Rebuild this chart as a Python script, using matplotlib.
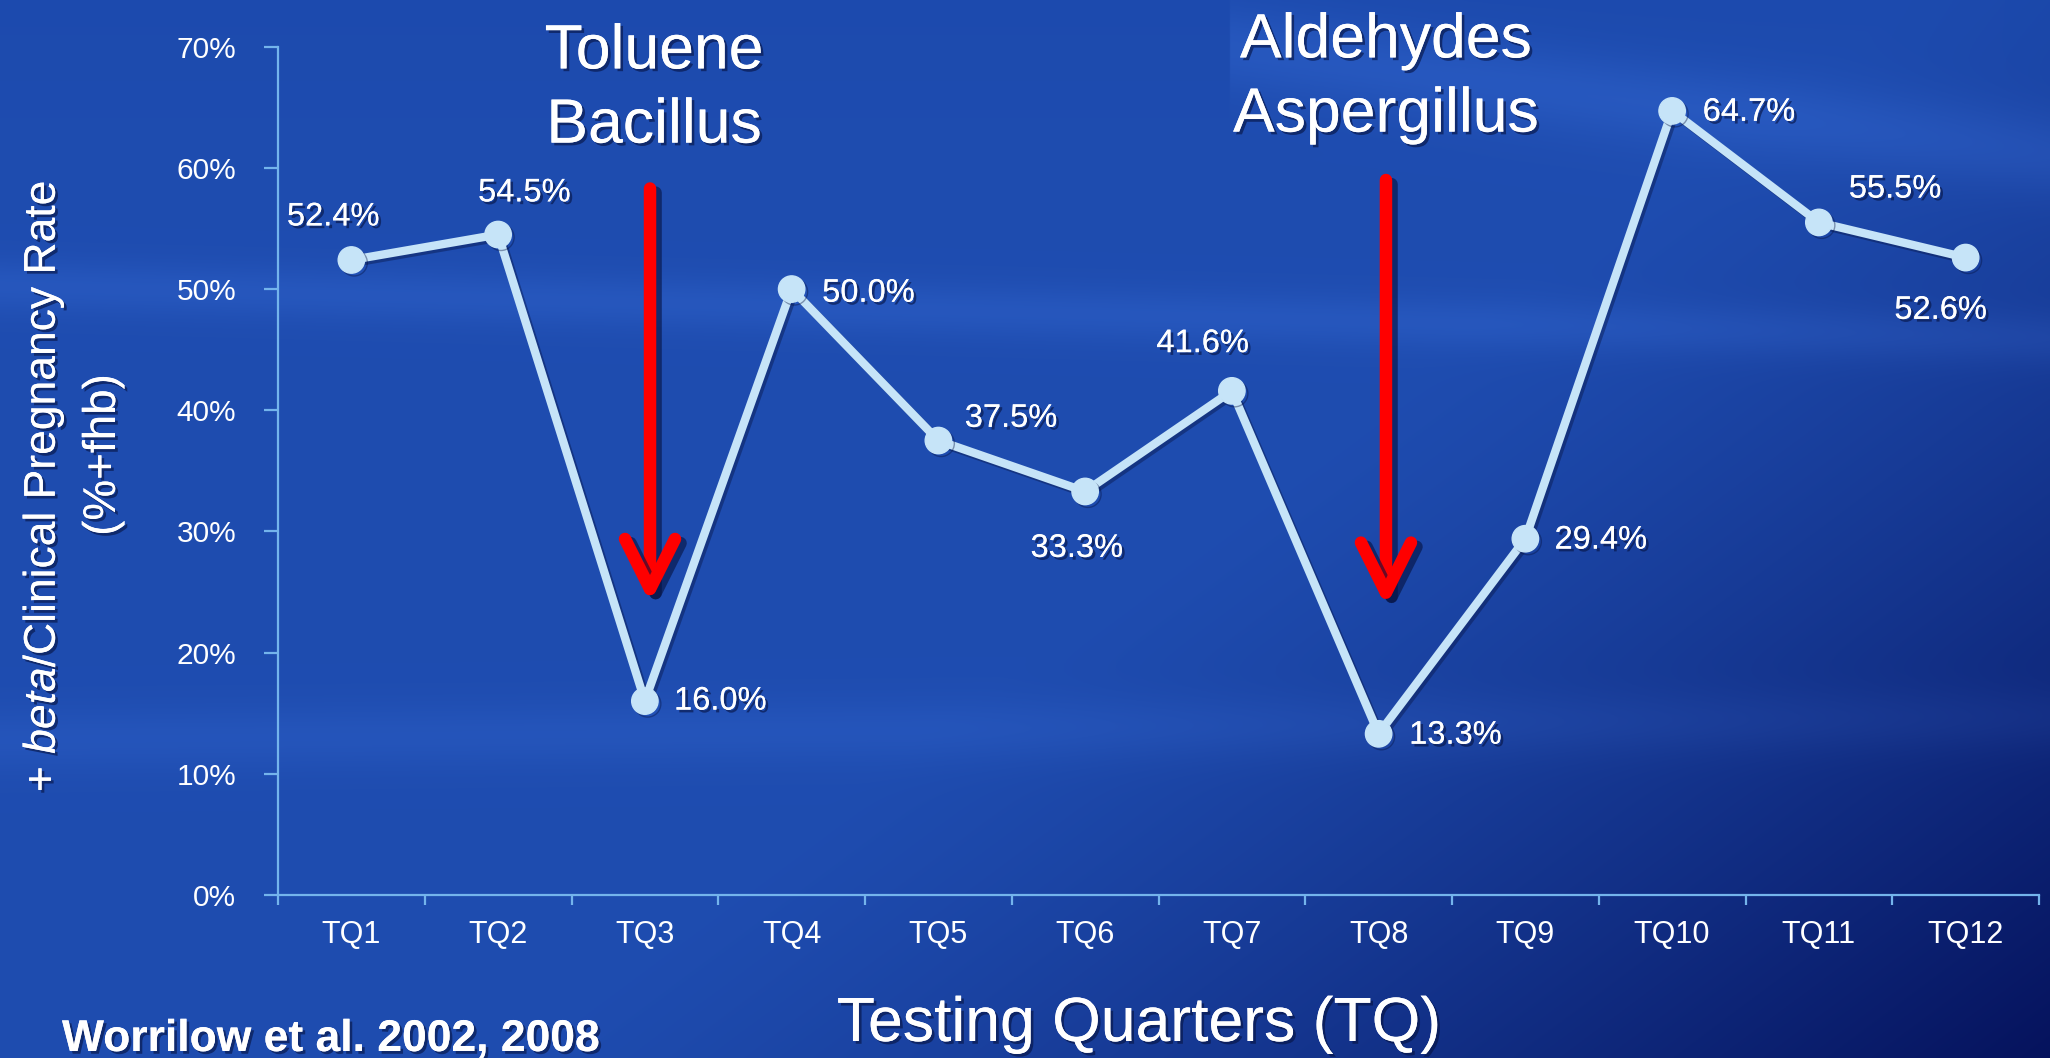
import numpy as np
import matplotlib
matplotlib.use('Agg')
import matplotlib.pyplot as plt
import matplotlib.patheffects as pe

plt.rcParams['font.family'] = ['Liberation Sans', 'DejaVu Sans']
plt.rcParams['mathtext.fontset'] = 'custom'
plt.rcParams['mathtext.rm'] = 'Liberation Sans'
plt.rcParams['mathtext.it'] = 'Liberation Sans:italic'

# data
quarters = ['TQ1', 'TQ2', 'TQ3', 'TQ4', 'TQ5', 'TQ6', 'TQ7', 'TQ8', 'TQ9', 'TQ10', 'TQ11', 'TQ12']
rates = [52.4, 54.5, 16.0, 50.0, 37.5, 33.3, 41.6, 13.3, 29.4, 64.7, 55.5, 52.6]
yticks = [0, 10, 20, 30, 40, 50, 60, 70]

# label placement (offset in points, alignment)
label_pos = [(-13, 31, 'center'), (19, 30, 'center'), (21, 0, 'left'), (22, -3, 'left'),
             (19, 16, 'left'), (-6, -41, 'center'), (-21, 34, 'center'), (22, -1, 'left'),
             (21, -1, 'left'), (22, -1, 'left'), (55, 24, 'center'), (-18, -38, 'center')]

line_col = '#c6e4f8'
axis_col = '#74b4ec'
txt_shadow = [pe.withSimplePatchShadow(offset=(2, -2), shadow_rgbFace='#061240', alpha=0.6), pe.Normal()]

fig = plt.figure(figsize=(20.5, 10.58), dpi=100)

# background gradient
yy, xx = np.mgrid[0:1:530j, 0:1:1025j]
c1 = np.array([0.12, 0.30, 0.69])
c2 = np.array([0.02, 0.07, 0.36])
d = np.clip((xx - 0.55) * 1.3 + (0.45 - yy) * 0.9, 0, 1) ** 1.3
img = c1 * (1 - d[..., None]) + c2 * d[..., None]
streak = (np.exp(-((yy - (0.73 - 0.05 * xx)) / 0.025) ** 2) * 0.05
          + np.exp(-((yy - (0.30 + 0.02 * xx)) / 0.03) ** 2) * 0.04
          + np.exp(-((yy - (0.93 - 0.25 * (xx - 0.7))) / 0.04) ** 2) * 0.06 * (xx > 0.6))
img = img + streak[..., None] * np.array([0.6, 0.8, 1.0])
img = img - 0.05 * np.clip(yy - 0.85, 0, 1)[..., None] * np.array([1, 1, 1])
bg = fig.add_axes([0, 0, 1, 1])
bg.imshow(np.clip(img, 0, 1), extent=[0, 1, 0, 1], aspect='auto', origin='lower', zorder=0)
bg.axis('off')

ax = fig.add_axes([278 / 2050, 1 - 895 / 1058, (2039 - 278) / 2050, (895 - 46.7) / 1058])
ax.patch.set_alpha(0)

x = np.arange(len(quarters))
ax.plot(x, rates, color=line_col, lw=6, marker='o', ms=19, zorder=3,
        path_effects=[pe.SimpleLineShadow(offset=(2, -2), shadow_color='#061240', alpha=0.4), pe.Normal()])

for i, v in enumerate(rates):
    dx, dy, ha = label_pos[i]
    ax.annotate(f'{v:.1f}%', (i, v), xytext=(dx, dy), textcoords='offset points',
                ha=ha, va='center', fontsize=23.5, color='white', path_effects=txt_shadow)

# arrows
for xa, ytop, ytip in [(2.035, 58.3, 24.1), (7.05, 59.0, 23.8)]:
    ax.annotate('', xy=(xa, ytip), xytext=(xa, ytop),
                arrowprops=dict(arrowstyle='->,head_length=1.8,head_width=0.9', lw=9, color='#ff0000',
                                mutation_scale=20, shrinkA=0, shrinkB=0, capstyle='round', joinstyle='round',
                                path_effects=[pe.SimpleLineShadow(offset=(4, -3), shadow_color='#061240', alpha=0.6),
                                              pe.Normal()]),
                zorder=4)

ax.set_xlim(-0.5, len(quarters) - 0.5)
ax.set_ylim(0, 70)
ax.set_yticks(yticks)
ax.set_yticklabels([f'{t}%' for t in yticks])
ax.set_xticks(np.arange(-0.5, len(quarters), 1))
ax.set_xticklabels([])
ax.set_xticks(x, minor=True)
ax.set_xticklabels(quarters, minor=True)

for s in ['top', 'right']:
    ax.spines[s].set_visible(False)
for s in ['left', 'bottom']:
    ax.spines[s].set_color(axis_col)
    ax.spines[s].set_linewidth(1.6)
ax.tick_params(axis='y', colors=axis_col, labelcolor='white', length=10, width=1.6, pad=20, labelsize=21.5)
ax.tick_params(axis='x', which='major', colors=axis_col, length=7, width=1.6)
ax.tick_params(axis='x', which='minor', length=0, pad=18, labelsize=22, labelcolor='white')

fig.text(55 / 2050, 1 - 486 / 1058, r'+ $\mathit{beta}$/Clinical Pregnancy Rate', rotation=90,
         rotation_mode='anchor', ha='center', va='baseline', fontsize=32, color='white', path_effects=txt_shadow)
fig.text(115 / 2050, 1 - 455 / 1058, '(%+fhb)', rotation=90,
         rotation_mode='anchor', ha='center', va='baseline', fontsize=33, color='white', path_effects=txt_shadow)

fig.text(1139 / 2050, 17 / 1058, 'Testing Quarters (TQ)', ha='center', va='baseline', fontsize=45,
         color='white', path_effects=txt_shadow)
fig.text(62 / 2050, 7 / 1058, 'Worrilow et al. 2002, 2008', ha='left', va='baseline', fontsize=32,
         fontweight='bold', color='white', path_effects=txt_shadow)

fig.text(654 / 2050, 1 - 89 / 1058, 'Toluene\nBacillus', ha='center', va='center', fontsize=45,
         color='white', linespacing=1.33, path_effects=txt_shadow)
fig.text(1386 / 2050, 1 - 78 / 1058, 'Aldehydes\nAspergillus', ha='center', va='center', fontsize=45,
         color='white', linespacing=1.33, path_effects=txt_shadow)

fig.savefig('out.png', dpi=100)
